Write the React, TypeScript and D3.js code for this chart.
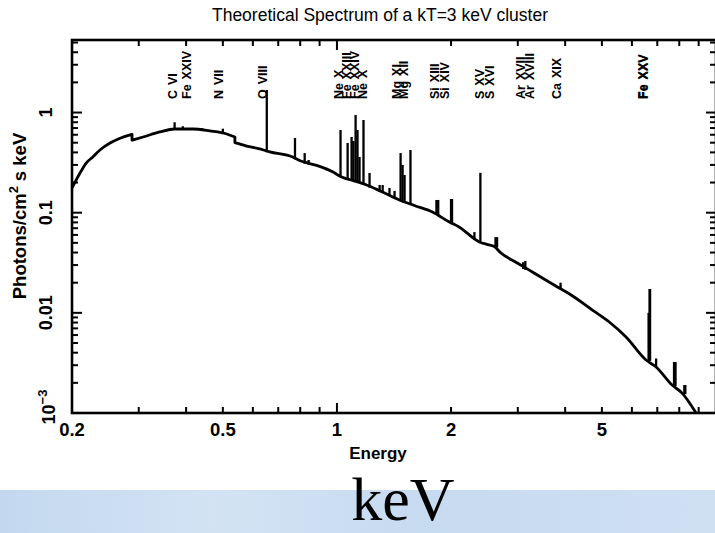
import React from "react";
import * as d3 from "d3";

const W = 715;
const H = 533;

// continuum trace (keV, photons/cm^2 s keV)
const contE = [0.2, 0.21, 0.218, 0.227, 0.237, 0.252, 0.265, 0.275, 0.288, 0.288, 0.308, 0.341, 0.373, 0.417, 0.462, 0.512, 0.538, 0.538, 0.578, 0.626, 0.665, 0.764, 0.80, 0.837, 0.90, 0.974, 1.029, 1.10, 1.197, 1.30, 1.462, 1.60, 1.786, 1.98, 2.10, 2.376, 2.50, 2.60, 2.70, 2.99, 3.2, 3.5, 3.86, 4.10, 4.72, 5.23, 5.79, 6.54, 6.95, 7.66, 8.14, 8.86];
const contF = [0.1765, 0.249, 0.313, 0.36, 0.423, 0.497, 0.545, 0.575, 0.605, 0.53, 0.57, 0.64, 0.685, 0.685, 0.655, 0.611, 0.57, 0.50, 0.463, 0.433, 0.404, 0.36, 0.33, 0.313, 0.29, 0.256, 0.227, 0.21, 0.189, 0.165, 0.134, 0.118, 0.1016, 0.0807, 0.072, 0.051, 0.048, 0.046, 0.040, 0.0315, 0.027, 0.022, 0.0177, 0.0155, 0.01066, 0.0081, 0.00574, 0.00338, 0.00288, 0.0019, 0.00158, 0.001];

// emission lines: energy, base, peak
const lineE = [0.373, 0.392, 0.44, 0.50, 0.653, 0.775, 0.822, 0.842, 0.94, 1.022, 1.067, 1.093, 1.105, 1.12, 1.133, 1.147, 1.175, 1.219, 1.296, 1.32, 1.376, 1.419, 1.472, 1.49, 1.508, 1.563, 1.83, 1.85, 2.0, 2.012, 2.305, 2.39, 2.62, 2.645, 3.10, 3.14, 3.89, 6.64, 6.68, 6.70, 6.95, 7.75, 7.82, 8.25, 8.3];
const lineBase = [0.685, 0.685, 0.67, 0.625, 0.41, 0.35, 0.315, 0.31, 0.27, 0.232, 0.222, 0.216, 0.213, 0.21, 0.207, 0.204, 0.196, 0.182, 0.166, 0.162, 0.152, 0.145, 0.133, 0.13, 0.128, 0.122, 0.098, 0.096, 0.080, 0.079, 0.055, 0.051, 0.046, 0.046, 0.028, 0.0275, 0.0175, 0.0034, 0.0034, 0.0034, 0.0029, 0.0019, 0.0019, 0.00158, 0.00158];
const linePeak = [0.80, 0.73, 0.70, 0.69, 1.68, 0.557, 0.394, 0.336, 0.28, 0.669, 0.497, 0.57, 0.52, 0.945, 0.669, 0.36, 0.842, 0.249, 0.189, 0.189, 0.1765, 0.165, 0.394, 0.30, 0.238, 0.423, 0.134, 0.134, 0.137, 0.137, 0.064, 0.25, 0.057, 0.057, 0.032, 0.033, 0.02, 0.0100, 0.0173, 0.0173, 0.0035, 0.00323, 0.00323, 0.0019, 0.0019];

// ion labels: element, ionisation stage, energy of label
const labelElem = ["C", "Fe", "N", "O", "Ne", "Fe", "Fe", "Ne", "Mg", "Mg", "Si", "Si", "S", "S", "Ar", "Ar", "Ca", "Fe", "Fe"];
const labelIon = ["VI", "XXIV", "VII", "VIII", "X", "XXIII", "XXIV", "X", "XI", "XII", "XIII", "XIV", "XV", "XVI", "XVII", "XVIII", "XIX", "XXV", "XXV"];
const labelE = [0.368, 0.402, 0.488, 0.637, 1.01, 1.06, 1.113, 1.168, 1.436, 1.499, 1.808, 1.92, 2.376, 2.526, 3.046, 3.218, 3.79, 6.41, 6.45];

const xTickLabels = [0.2, 0.5, 1, 2, 5];
const yTickLabels = [1, 0.1, 0.01];

const FONT = "'Liberation Sans', Arial, Helvetica, sans-serif";

export default function App() {
  const left = 72, right = 716, top = 40, bottom = 413;
  const x = d3.scaleLog().domain([0.2, 10]).range([left, right]);
  const y = d3.scaleLog().domain([0.001, 5.3]).range([bottom, top]);

  // split the continuum at absorption edges (repeated energies)
  const segs: [number, number][][] = [[]];
  contE.forEach((e, i) => {
    if (i > 0 && e === contE[i - 1]) segs.push([]);
    segs[segs.length - 1].push([e, contF[i]]);
  });
  const lineGen = d3.line<[number, number]>().x(d => x(d[0])).y(d => y(d[1])).curve(d3.curveMonotoneX);
  const contPath = segs
    .map((s, k) => {
      const p = s.length > 1 ? lineGen(s) || "" : `M${x(s[0][0])},${y(s[0][1])}`;
      return k === 0 ? p : "L" + p.slice(1);
    })
    .join("");

  const isMajor = (v: number) => Math.abs(Math.log10(v) - Math.round(Math.log10(v))) < 1e-6;
  const xt = x.ticks(20).filter(v => v > 0.2 && v < 10);
  const yt = y.ticks(30).filter(v => v > 0.001 && v < 5.3);

  const tickEls: JSX.Element[] = [];
  xt.forEach((v, i) => {
    const len = isMajor(v) ? 10 : 6;
    const px = x(v);
    tickEls.push(<line key={"xb" + i} x1={px} x2={px} y1={bottom} y2={bottom - len} stroke="#000" strokeWidth={2} />);
    tickEls.push(<line key={"xt" + i} x1={px} x2={px} y1={top} y2={top + len} stroke="#000" strokeWidth={2} />);
  });
  yt.forEach((v, i) => {
    const len = isMajor(v) ? 10 : 6;
    const py = y(v);
    tickEls.push(<line key={"yl" + i} x1={left} x2={left + len} y1={py} y2={py} stroke="#000" strokeWidth={2} />);
    tickEls.push(<line key={"yr" + i} x1={right} x2={right - len} y1={py} y2={py} stroke="#000" strokeWidth={2} />);
  });

  return (
    <svg width={W} height={H} viewBox={`0 0 ${W} ${H}`} style={{ position: "absolute", left: 0, top: 0, background: "#fff" }}>
      <defs>
        <linearGradient id="band" x1="0" x2="1" y1="0" y2="0">
          <stop offset="0" stopColor="#c3d8ef" />
          <stop offset="0.3" stopColor="#d3e3f4" />
          <stop offset="0.6" stopColor="#c6daf0" />
          <stop offset="1" stopColor="#cfe0f3" />
        </linearGradient>
      </defs>
      <rect x={0} y={0} width={W} height={H} fill="#fff" />
      <rect x={0} y={490} width={W} height={H - 490} fill="url(#band)" />

      <text x={380} y={21} textAnchor="middle" fontFamily={FONT} fontSize={17.5} fill="#000">
        Theoretical Spectrum of a kT=3 keV cluster
      </text>

      {/* spectrum */}
      <path d={contPath} fill="none" stroke="#000" strokeWidth={2.8} strokeLinejoin="round" />
      {lineE.map((e, i) => (
        <line key={"l" + i} x1={x(e)} x2={x(e)} y1={y(lineBase[i]) + 1} y2={y(linePeak[i])} stroke="#000" strokeWidth={2.3} />
      ))}

      {/* frame */}
      <rect x={left} y={top} width={right - left} height={bottom - top} fill="none" stroke="#000" strokeWidth={2.6} />
      {tickEls}

      {/* ion labels */}
      {labelElem.map((n, i) => (
        <text key={"n" + i} transform={`translate(${x(labelE[i]) + 4.5},99) rotate(-90)`} fontFamily={FONT} fontWeight="bold" fontSize={12.5} fill="#000">
          <tspan>{n}</tspan>
          <tspan dx={5}>{labelIon[i]}</tspan>
        </text>
      ))}

      {/* x tick labels */}
      {xTickLabels.map((v, i) => (
        <text key={"xl" + i} x={x(v)} y={436} textAnchor="middle" fontFamily={FONT} fontWeight="bold" fontSize={18.5} fill="#000">
          {String(v)}
        </text>
      ))}
      {/* y tick labels */}
      {yTickLabels.map((v, i) => (
        <text key={"yl" + i} transform={`translate(52,${y(v)}) rotate(-90)`} textAnchor="middle" fontFamily={FONT} fontWeight="bold" fontSize={18} fill="#000">
          {String(v)}
        </text>
      ))}
      <text transform={`translate(55,${y(0.001) - 6}) rotate(-90)`} textAnchor="middle" fontFamily={FONT} fontWeight="bold" fontSize={18} fill="#000">
        <tspan>10</tspan>
        <tspan fontSize={13} dy={-8}>−3</tspan>
      </text>

      {/* axis titles */}
      <text x={378} y={459} textAnchor="middle" fontFamily={FONT} fontWeight="bold" fontSize={17} fill="#000">
        Energy
      </text>
      <text transform="translate(26,216) rotate(-90)" textAnchor="middle" fontFamily={FONT} fontWeight="bold" fontSize={18.5} fill="#000">
        <tspan>Photons/cm</tspan>
        <tspan fontSize={13} dy={-8}>2</tspan>
        <tspan dx={5} dy={8}>s keV</tspan>
      </text>

      <text x={403} y={520} textAnchor="middle" fontFamily="'Liberation Serif', 'Times New Roman', serif" fontSize={62} fill="#000">
        keV
      </text>
    </svg>
  );
}
